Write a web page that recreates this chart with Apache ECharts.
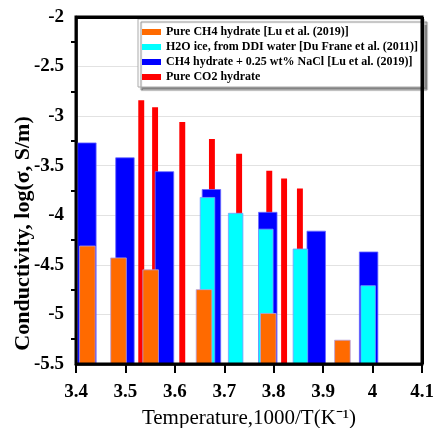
<!DOCTYPE html>
<html>
<head>
<meta charset="utf-8">
<script src="https://cdn.jsdelivr.net/npm/echarts@6/dist/echarts.min.js"></script>
<style>
  html, body { margin: 0; padding: 0; background: #fff; }
  #chart { width: 435px; height: 428px; }
</style>
</head>
<body>
<div id="chart"></div>
<script>
// Series names (legend order)
const seriesNames = [
  'Pure CH4 hydrate [Lu et al. (2019)]',
  'H2O ice, from DDI water [Du Frane et al. (2011)]',
  'CH4 hydrate + 0.25 wt% NaCl [Lu et al. (2019)]',
  'Pure CO2 hydrate'
];

// Pure CH4 hydrate: 1000/T and log(conductivity)
const ch4X = [3.423, 3.486, 3.551, 3.659, 3.789, 3.939];
const ch4Y = [-4.31, -4.43, -4.55, -4.75, -4.99, -5.26];

// H2O ice from DDI water
const iceX = [3.666, 3.723, 3.784, 3.854, 3.991];
const iceY = [-3.82, -3.98, -4.14, -4.34, -4.71];

// CH4 hydrate + 0.25 wt% NaCl
const naclX = [3.422, 3.499, 3.579, 3.674, 3.788, 3.886, 3.992];
const naclY = [-3.27, -3.42, -3.56, -3.74, -3.97, -4.16, -4.37];

// Pure CO2 hydrate
const co2X = [3.532, 3.560, 3.615, 3.675, 3.730, 3.791, 3.821, 3.853];
const co2Y = [-2.84, -2.91, -3.06, -3.23, -3.38, -3.55, -3.63, -3.73];

// Tick labels
const xTickLabels = ['3.4', '3.5', '3.6', '3.7', '3.8', '3.9', '4', '4.1'];
const yTickLabels = ['-5.5', '-5', '-4.5', '-4', '-3.5', '-3', '-2.5', '-2'];

const X_MIN = 3.4, X_MAX = 4.1, X_STEP = 0.1;
const Y_MIN = -5.5, Y_MAX = -2, Y_STEP = 0.5;

const pairs = (xs, ys) => xs.map((x, i) => [x, ys[i]]);

// Bars rise from the bottom of the value axis up to each value
function barRenderer(halfWidth, fill, stroke) {
  return function (params, api) {
    const x = api.value(0), y = api.value(1);
    const topLeft = api.coord([x - halfWidth, y]);
    const bottomRight = api.coord([x + halfWidth, Y_MIN]);
    return {
      type: 'rect',
      shape: {
        x: topLeft[0],
        y: topLeft[1],
        width: bottomRight[0] - topLeft[0],
        height: bottomRight[1] - topLeft[1]
      },
      style: { fill: fill, stroke: stroke || 'none', lineWidth: stroke ? 0.8 : 1 }
    };
  };
}

const COLORS = { ch4: '#ff6a00', ice: '#00ffff', nacl: '#0000ff', co2: '#ff0000' };
const SERIF = "'Liberation Serif', 'Times New Roman', serif";

const chart = echarts.init(document.getElementById('chart'), null, { renderer: 'canvas' });

chart.setOption({
  animation: false,
  grid: {
    left: 76, right: 13, top: 17, bottom: 64,
    outerBoundsMode: 'none'
  },
  legend: {
    data: seriesNames,
    orient: 'vertical',
    left: 138, top: 19,
    padding: [7, 6, 4, 4],
    itemWidth: 19, itemHeight: 6, itemGap: 3,
    icon: 'rect',
    backgroundColor: '#fff',
    borderColor: '#aaa', borderWidth: 1,
    shadowColor: 'rgba(120,120,120,0.9)', shadowBlur: 1, shadowOffsetX: 3, shadowOffsetY: 3,
    textStyle: { fontFamily: SERIF, fontWeight: 'bold', fontSize: 12, color: '#000', lineHeight: 12 }
  },
  xAxis: {
    type: 'value',
    min: X_MIN, max: X_MAX, interval: X_STEP,
    name: 'Temperature,1000/T(K⁻¹)',
    nameLocation: 'middle', nameGap: 44,
    nameTextStyle: { fontFamily: SERIF, fontSize: 21, color: '#000' },
    axisLine: { show: true, onZero: false, lineStyle: { color: '#000', width: 2.5 } },
    axisTick: { show: true, inside: false, length: 9, lineStyle: { color: '#000', width: 2 } },
    axisLabel: {
      margin: 19, fontFamily: SERIF, fontWeight: 'bold', fontSize: 19, color: '#000',
      formatter: v => xTickLabels[Math.round((v - X_MIN) / X_STEP)] || ''
    },
    splitLine: { show: false }
  },
  yAxis: {
    type: 'value',
    min: Y_MIN, max: Y_MAX, interval: Y_STEP,
    name: 'Conductivity, log(σ, S/m)',
    nameLocation: 'middle', nameGap: 42, nameMoveOverlap: false,
    nameTextStyle: { fontFamily: SERIF, fontWeight: 'bold', fontSize: 22, color: '#000', padding: [0, 86, 0, 0] },
    axisLine: { show: true, onZero: false, lineStyle: { color: '#000', width: 2.5 } },
    axisTick: { show: false },
    minorTick: { show: true, splitNumber: 2, length: 5, lineStyle: { color: '#000', width: 2 } },
    axisLabel: {
      margin: 12, fontFamily: SERIF, fontWeight: 'bold', fontSize: 19, color: '#000',
      formatter: v => yTickLabels[Math.round((v - Y_MIN) / Y_STEP)] || ''
    },
    splitLine: { show: true, lineStyle: { color: '#e2e2e2', width: 1.2 } }
  },
  series: [
    {
      name: seriesNames[3], type: 'custom', itemStyle: { color: COLORS.co2 },
      renderItem: barRenderer(0.006, COLORS.co2, null),
      data: pairs(co2X, co2Y), encode: { x: 0, y: 1 },
      // top and right edges of the plot frame
      markLine: {
        silent: true, symbol: 'none', animation: false,
        label: { show: false },
        lineStyle: { color: '#000', width: 3, type: 'solid' },
        emphasis: { disabled: true },
        data: [{ yAxis: Y_MAX }, { xAxis: X_MAX }]
      }
    },
    {
      name: seriesNames[2], type: 'custom', itemStyle: { color: COLORS.nacl },
      renderItem: barRenderer(0.0187, COLORS.nacl, '#6a6aff'),
      data: pairs(naclX, naclY), encode: { x: 0, y: 1 }
    },
    {
      name: seriesNames[1], type: 'custom', itemStyle: { color: COLORS.ice },
      renderItem: barRenderer(0.0147, COLORS.ice, '#7a9cff'),
      data: pairs(iceX, iceY), encode: { x: 0, y: 1 }
    },
    {
      name: seriesNames[0], type: 'custom', itemStyle: { color: COLORS.ch4 },
      renderItem: barRenderer(0.0158, COLORS.ch4, '#b4a0e0'),
      data: pairs(ch4X, ch4Y), encode: { x: 0, y: 1 }
    }
  ]
});

// Heavy frame around the plot area, placed from the axis extents
const cornerA = chart.convertToPixel({ gridIndex: 0 }, [X_MIN, Y_MAX]);
const cornerB = chart.convertToPixel({ gridIndex: 0 }, [X_MAX, Y_MIN]);
chart.setOption({
  graphic: [{
    type: 'rect', z: 100, silent: true,
    shape: {
      x: cornerA[0], y: cornerA[1],
      width: cornerB[0] - cornerA[0], height: cornerB[1] - cornerA[1]
    },
    style: { fill: 'none', stroke: '#000', lineWidth: 3 }
  }]
});
</script>
</body>
</html>
